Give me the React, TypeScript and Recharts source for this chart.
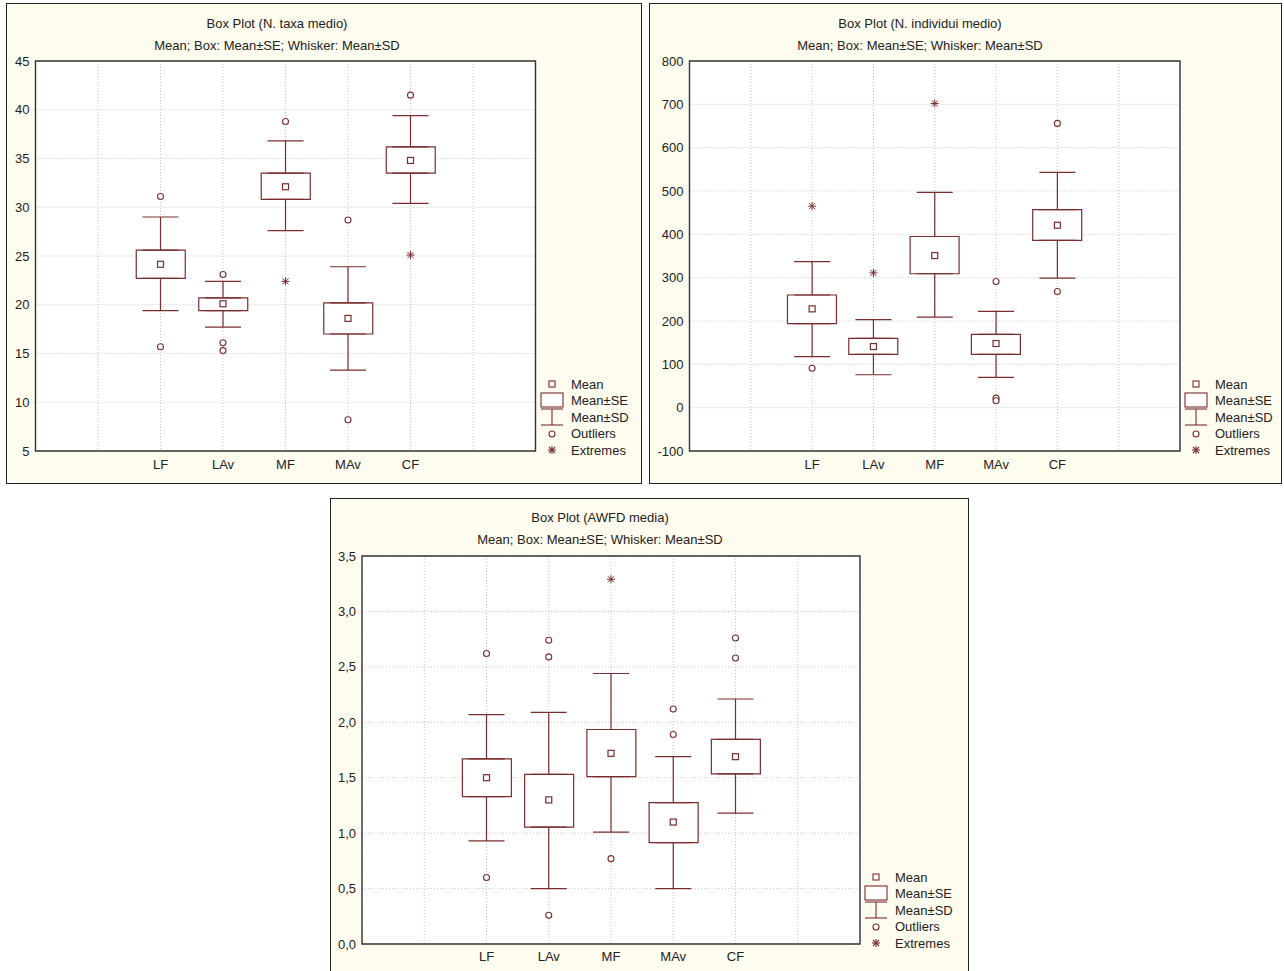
import {ComposedChart, Bar, Scatter, ErrorBar, XAxis, YAxis, CartesianGrid, ReferenceArea} from "recharts";

const MARK = "#7a2d2d";
const BG = "#fefcef";
const FONT = "'Liberation Sans', Arial, sans-serif";
const FS = 13;

const categories = ["LF", "LAv", "MF", "MAv", "CF"];
const subtitle = "Mean; Box: Mean\u00b1SE; Whisker: Mean\u00b1SD";

// N. taxa medio
const taxaMean = [24.15, 20.1, 32.1, 18.6, 34.8];
const taxaSeLow = [22.7, 19.4, 30.8, 17.0, 33.5];
const taxaSeHigh = [25.6, 20.7, 33.5, 20.2, 36.2];
const taxaSdLow = [19.4, 17.7, 27.6, 13.3, 30.4];
const taxaSdHigh = [29.0, 22.4, 36.8, 23.9, 39.4];
const taxaOutliers: [string, number][] = [
  ["LF", 31.1], ["LF", 15.7], ["LAv", 23.1], ["LAv", 16.1], ["LAv", 15.3],
  ["MF", 38.8], ["MAv", 28.7], ["MAv", 8.2], ["CF", 41.5],
];
const taxaExtremes: [string, number][] = [["MF", 22.4], ["CF", 25.1]];
const taxaTicks = [5, 10, 15, 20, 25, 30, 35, 40, 45];

// N. individui medio
const indMean = [228, 141, 351, 148, 421];
const indSeLow = [194, 123, 309, 123, 386];
const indSeHigh = [260, 160, 395, 169, 457];
const indSdLow = [118, 76, 209, 70, 299];
const indSdHigh = [337, 203, 497, 222, 543];
const indOutliers: [string, number][] = [
  ["LF", 91], ["MAv", 291], ["MAv", 22], ["MAv", 16], ["CF", 656], ["CF", 268],
];
const indExtremes: [string, number][] = [["LF", 465], ["LAv", 311], ["MF", 702]];
const indTicks = [-100, 0, 100, 200, 300, 400, 500, 600, 700, 800];

// AWFD media
const awfdMean = [1.5, 1.3, 1.72, 1.1, 1.69];
const awfdSeLow = [1.33, 1.055, 1.51, 0.915, 1.535];
const awfdSeHigh = [1.67, 1.53, 1.935, 1.275, 1.845];
const awfdSdLow = [0.93, 0.5, 1.01, 0.5, 1.18];
const awfdSdHigh = [2.07, 2.09, 2.44, 1.69, 2.21];
const awfdOutliers: [string, number][] = [
  ["LF", 2.62], ["LF", 0.6], ["LAv", 2.74], ["LAv", 2.59], ["LAv", 0.26],
  ["MF", 0.77], ["MAv", 2.12], ["MAv", 1.89], ["CF", 2.76], ["CF", 2.58],
];
const awfdExtremes: [string, number][] = [["MF", 3.29]];
const awfdTicks = [0, 0.5, 1, 1.5, 2, 2.5, 3, 3.5];

const slotTicks = [0, 1, 2, 3, 4, 5, 6, 7, 8];
const catX = (c: string) => categories.indexOf(c) + 2;

const MeanShape = (p: any) => (
  <rect x={p.cx - 3} y={p.cy - 3} width={6} height={6} fill="#fff" stroke={MARK} strokeWidth={1.2} />
);
const OutlierShape = (p: any) => (
  <circle cx={p.cx} cy={p.cy} r={3} fill="#fff" stroke={MARK} strokeWidth={1.1} />
);
const ExtremeShape = (p: any) => (
  <g stroke={MARK} strokeWidth={1}>
    <line x1={p.cx - 4} y1={p.cy} x2={p.cx + 4} y2={p.cy} />
    <line x1={p.cx} y1={p.cy - 4} x2={p.cx} y2={p.cy + 4} />
    <line x1={p.cx - 3} y1={p.cy - 3} x2={p.cx + 3} y2={p.cy + 3} />
    <line x1={p.cx - 3} y1={p.cy + 3} x2={p.cx + 3} y2={p.cy - 3} />
  </g>
);
const NoShape = () => <g />;

function LegendBox({x, y}: {x: number; y: number}) {
  const rows = ["Mean", "Mean\u00b1SE", "Mean\u00b1SD", "Outliers", "Extremes"];
  return (
    <svg style={{position: "absolute", left: x - 12, top: y - 10}} width={100} height={90}>
      <g stroke={MARK} strokeWidth={1.1} fill="#fff">
        <rect x={9} y={7} width={6} height={6} />
        <rect x={1} y={19} width={22} height={14} />
        <line x1={1} y1={35} x2={23} y2={35} />
        <line x1={12} y1={35} x2={12} y2={51} />
        <line x1={1} y1={51} x2={23} y2={51} />
        <circle cx={12} cy={60} r={3} />
        <line x1={8} y1={76} x2={16} y2={76} />
        <line x1={12} y1={72} x2={12} y2={80} />
        <line x1={9} y1={73} x2={15} y2={79} />
        <line x1={9} y1={79} x2={15} y2={73} />
      </g>
      {rows.map((r, i) => (
        <text key={r} x={31} y={10 + i * 16.5} dy="0.35em" fontSize={FS} fontFamily={FONT} fill="#222">
          {r}
        </text>
      ))}
    </svg>
  );
}

type PanelProps = {
  box: [number, number, number, number];
  plot: {l: number; r: number; t: number; b: number};
  title: string;
  titleX: number;
  titleY: number;
  mean: number[];
  seLow: number[];
  seHigh: number[];
  sdLow: number[];
  sdHigh: number[];
  outliers: [string, number][];
  extremes: [string, number][];
  ticks: number[];
  fmt: (v: number) => string;
  xGap: number;
};

function Panel(p: PanelProps) {
  const [bl, bt, bw, bh] = p.box;
  const il = bl + 1;
  const it = bt + 1;
  const iw = bw - 2;
  const ih = bh - 2;
  const yMin = p.ticks[0];
  const yMax = p.ticks[p.ticks.length - 1];

  const rows = categories.map((c, i) => ({x: i + 2, se: [p.seLow[i], p.seHigh[i]]}));
  const upper = categories.map((c, i) => ({x: i + 2, y: p.seHigh[i], err: [0, p.sdHigh[i] - p.seHigh[i]]}));
  const lower = categories.map((c, i) => ({x: i + 2, y: p.seLow[i], err: [p.seLow[i] - p.sdLow[i], 0]}));
  const means = categories.map((c, i) => ({x: i + 2, y: p.mean[i]}));
  const outs = p.outliers.map(([c, v]) => ({x: catX(c), y: v}));
  const exts = p.extremes.map(([c, v]) => ({x: catX(c), y: v}));

  const xAxisH = 22;
  const tickStyle = {fontSize: FS, fontFamily: FONT, fill: "#222"};
  const textStyle = {
    position: "absolute" as const,
    left: p.titleX - il,
    transform: "translate(-50%, -50%)",
    whiteSpace: "nowrap" as const,
    fontSize: FS,
    fontFamily: FONT,
    color: "#222",
  };

  return (
    <div
      style={{
        position: "absolute",
        left: bl,
        top: bt,
        width: bw - 2,
        height: bh - 2,
        border: "1px solid #222",
        background: BG,
      }}
    >
      <div style={{...textStyle, top: p.titleY - it}}>{p.title}</div>
      <div style={{...textStyle, top: p.titleY + 22.5 - it}}>{subtitle}</div>
      <div style={{position: "absolute", left: 0, top: 0}}>
        <ComposedChart
          width={iw}
          height={ih}
          data={rows}
          margin={{top: p.plot.t - it, right: il + iw - p.plot.r, bottom: it + ih - p.plot.b - xAxisH, left: 0}}
        >
          <CartesianGrid stroke="#c4c4c4" strokeDasharray="1 2" fill="#fff" />
          <XAxis
            type="number"
            dataKey="x"
            domain={[0, 8]}
            ticks={slotTicks}
            tickFormatter={(v: number) => categories[v - 2] ?? ""}
            axisLine={false}
            tickLine={false}
            tickSize={p.xGap}
            tickMargin={2}
            height={xAxisH}
            tick={tickStyle}
            interval={0}
          />
          <YAxis
            type="number"
            domain={[yMin, yMax]}
            ticks={p.ticks}
            tickFormatter={p.fmt}
            axisLine={false}
            tickLine={false}
            tickSize={4}
            tickMargin={2}
            width={p.plot.l - il}
            tick={tickStyle}
            interval={0}
            allowDataOverflow
          />
          <ReferenceArea x1={0} x2={8} y1={yMin} y2={yMax} fill="none" stroke="#333" strokeWidth={1.4} ifOverflow="visible" />
          <Scatter data={upper} dataKey="y" shape={NoShape} isAnimationActive={false}>
            <ErrorBar dataKey="err" direction="y" width={18} stroke={MARK} strokeWidth={1.2} isAnimationActive={false} />
          </Scatter>
          <Scatter data={lower} dataKey="y" shape={NoShape} isAnimationActive={false}>
            <ErrorBar dataKey="err" direction="y" width={18} stroke={MARK} strokeWidth={1.2} isAnimationActive={false} />
          </Scatter>
          <Bar dataKey="se" barSize={49} fill="#fff" stroke={MARK} strokeWidth={1.2} isAnimationActive={false} />
          <Scatter data={means} dataKey="y" shape={MeanShape} isAnimationActive={false} />
          <Scatter data={outs} dataKey="y" shape={OutlierShape} isAnimationActive={false} />
          <Scatter data={exts} dataKey="y" shape={ExtremeShape} isAnimationActive={false} />
        </ComposedChart>
      </div>
      <LegendBox x={p.plot.r + 16 - il} y={p.plot.b - 67 - it} />
    </div>
  );
}

const plain = (v: number) => String(v);
const comma = (v: number) => v.toFixed(1).replace(".", ",");

export default function App() {
  return (
    <div style={{position: "absolute", left: 0, top: 0, width: 1284, height: 971, overflow: "hidden", background: "#fff"}}>
      <Panel
        box={[6, 3, 636, 481]}
        plot={{l: 35.5, r: 535.5, t: 61, b: 451}}
        title="Box Plot (N. taxa medio)"
        titleX={277}
        titleY={22.5}
        mean={taxaMean}
        seLow={taxaSeLow}
        seHigh={taxaSeHigh}
        sdLow={taxaSdLow}
        sdHigh={taxaSdHigh}
        outliers={taxaOutliers}
        extremes={taxaExtremes}
        ticks={taxaTicks}
        fmt={plain}
        xGap={7}
      />
      <Panel
        box={[649, 3, 633, 481]}
        plot={{l: 689.5, r: 1180, t: 61, b: 451}}
        title="Box Plot (N. individui medio)"
        titleX={920}
        titleY={22.5}
        mean={indMean}
        seLow={indSeLow}
        seHigh={indSeHigh}
        sdLow={indSdLow}
        sdHigh={indSdHigh}
        outliers={indOutliers}
        extremes={indExtremes}
        ticks={indTicks}
        fmt={plain}
        xGap={7}
      />
      <Panel
        box={[330, 498, 639, 476]}
        plot={{l: 362, r: 860, t: 556, b: 944}}
        title="Box Plot (AWFD media)"
        titleX={600}
        titleY={516.5}
        mean={awfdMean}
        seLow={awfdSeLow}
        seHigh={awfdSeHigh}
        sdLow={awfdSdLow}
        sdHigh={awfdSdHigh}
        outliers={awfdOutliers}
        extremes={awfdExtremes}
        ticks={awfdTicks}
        fmt={comma}
        xGap={6}
      />
    </div>
  );
}
